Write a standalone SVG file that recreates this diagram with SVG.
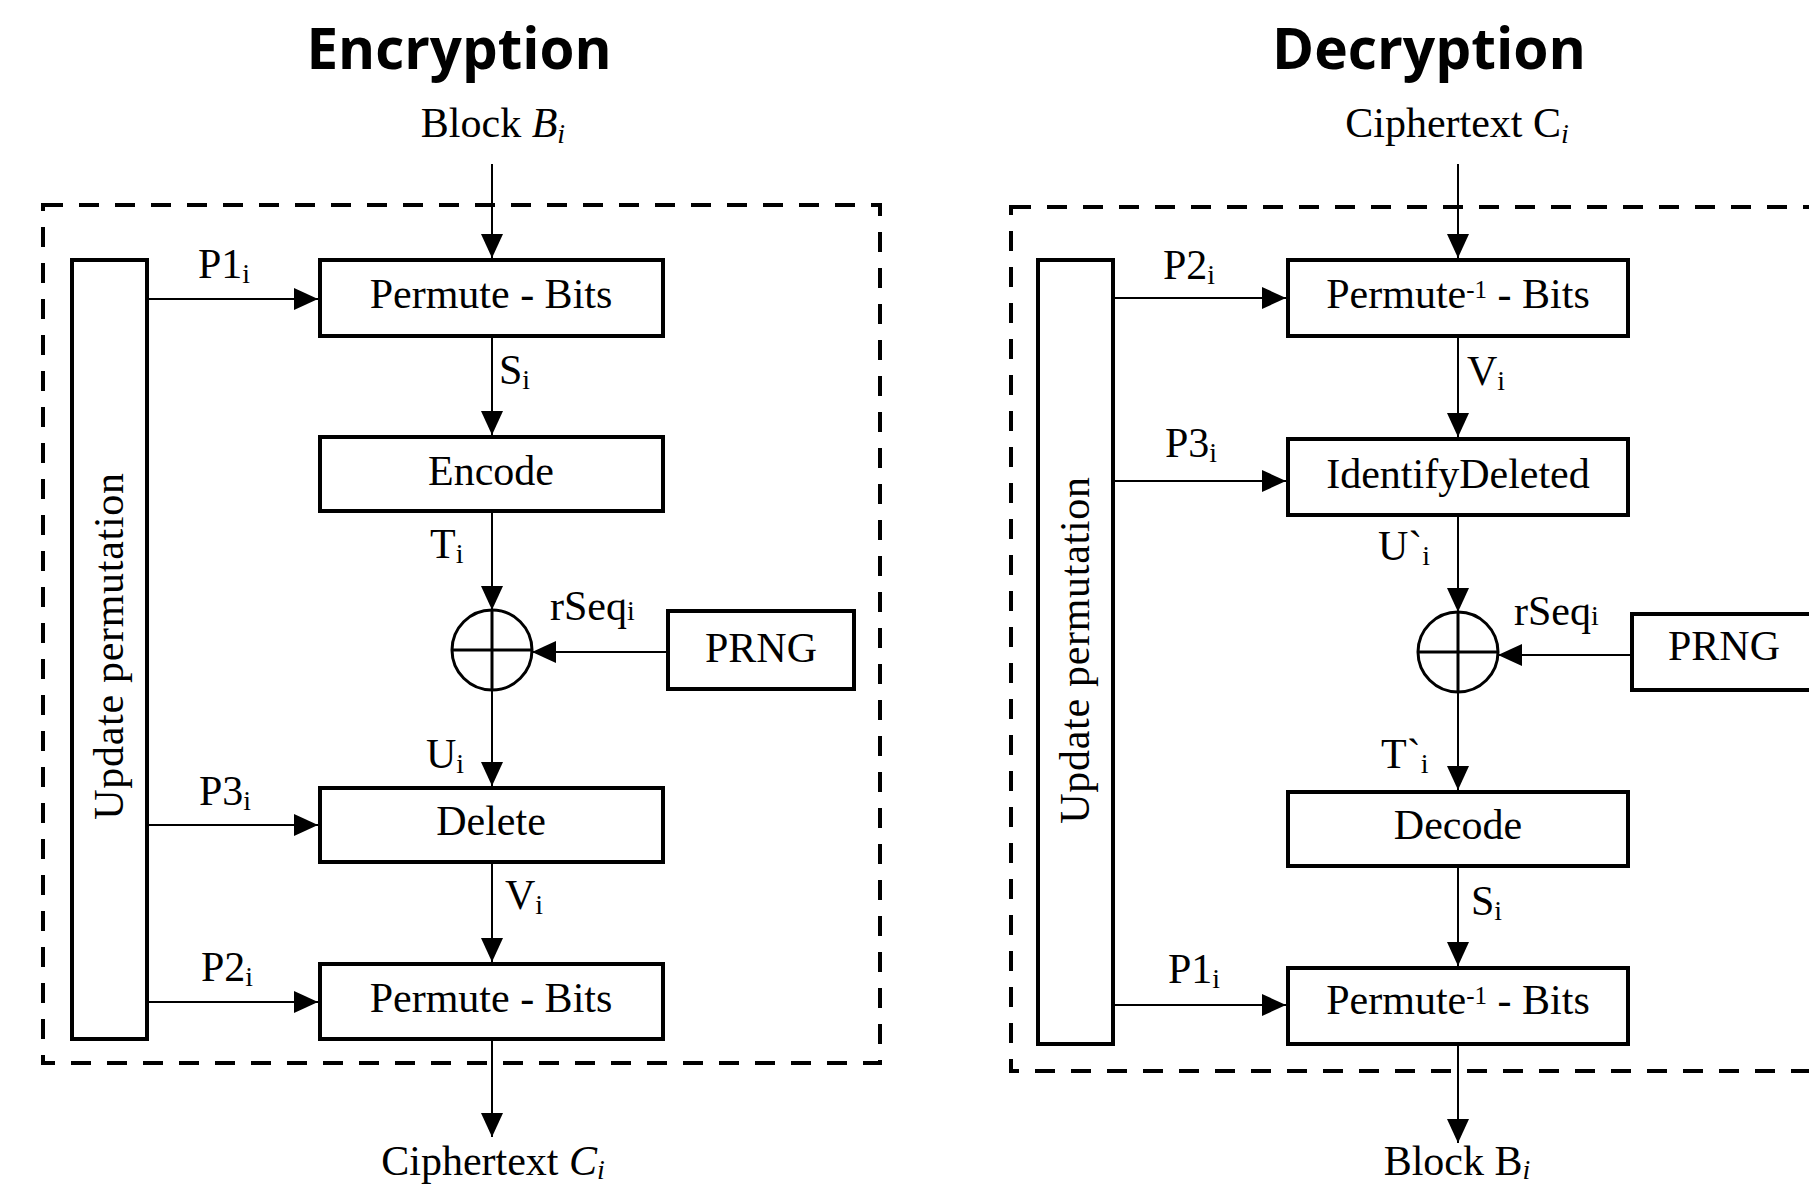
<svg xmlns="http://www.w3.org/2000/svg" width="1809" height="1187" viewBox="0 0 1809 1187">
<style>
.box{fill:#fff;stroke:#000;stroke-width:4}
.conn{stroke:#000;stroke-width:2;fill:none}
.dash{fill:none;stroke:#000;stroke-width:4;stroke-dasharray:20 16}
.xor{fill:#fff;stroke:#000;stroke-width:3}
.xl{stroke:#000;stroke-width:3}
.lbl{font-family:"Liberation Serif","Times New Roman",serif;font-size:42px;fill:#000}
.sub{font-size:28px}
.sup{font-size:25px}
.it{font-style:italic}
.title{font-family:"Open Sans","Liberation Sans",sans-serif;font-weight:bold;font-size:58px;fill:#000}
</style>
<defs>
<marker id="ah" viewBox="0 0 24 24" refX="24" refY="12" markerWidth="24" markerHeight="24" markerUnits="userSpaceOnUse" orient="auto">
<path d="M0,1 L24,12 L0,23 z" fill="#000"/>
</marker>
</defs>
<rect width="1809" height="1187" fill="#fff"/>

<!-- Encryption -->
<text class="title" x="459" y="69" text-anchor="middle" textLength="305" lengthAdjust="spacingAndGlyphs">Encryption</text>
<rect class="dash" x="43" y="205" width="837" height="858"/>

<g id="enc-update"><rect class="box" x="72" y="260" width="75" height="779"/>
<text class="lbl" transform="translate(123,646) rotate(-90)" text-anchor="middle" letter-spacing="0.7">Update permutation</text></g>
<g id="enc-perm1"><rect class="box" x="320" y="260" width="343" height="76"/>
<text class="lbl" x="491" y="308" text-anchor="middle">Permute - Bits</text></g>
<g id="enc-encode"><rect class="box" x="320" y="437" width="343" height="74"/>
<text class="lbl" x="491" y="485" text-anchor="middle">Encode</text></g>
<g id="enc-xor"><circle class="xor" cx="492" cy="650" r="40"/>
<line class="xl" x1="452" y1="650" x2="532" y2="650"/><line class="xl" x1="492" y1="610" x2="492" y2="690"/></g>
<g id="enc-prng"><rect class="box" x="668" y="611" width="186" height="78"/>
<text class="lbl" x="761" y="662" text-anchor="middle">PRNG</text></g>
<g id="enc-delete"><rect class="box" x="320" y="788" width="343" height="74"/>
<text class="lbl" x="491" y="835" text-anchor="middle">Delete</text></g>
<g id="enc-perm2"><rect class="box" x="320" y="964" width="343" height="75"/>
<text class="lbl" x="491" y="1012" text-anchor="middle">Permute - Bits</text></g>

<g id="enc-connectors">
<line class="conn" x1="492" y1="164" x2="492" y2="258" marker-end="url(#ah)"/>
<line class="conn" x1="492" y1="338" x2="492" y2="435" marker-end="url(#ah)"/>
<line class="conn" x1="492" y1="513" x2="492" y2="610" marker-end="url(#ah)"/>
<line class="conn" x1="492" y1="690" x2="492" y2="786" marker-end="url(#ah)"/>
<line class="conn" x1="492" y1="864" x2="492" y2="962" marker-end="url(#ah)"/>
<line class="conn" x1="492" y1="1041" x2="492" y2="1137" marker-end="url(#ah)"/>
<line class="conn" x1="666" y1="652" x2="532" y2="652" marker-end="url(#ah)"/>
<line class="conn" x1="149" y1="299" x2="318" y2="299" marker-end="url(#ah)"/>
<line class="conn" x1="149" y1="825" x2="318" y2="825" marker-end="url(#ah)"/>
<line class="conn" x1="149" y1="1002" x2="318" y2="1002" marker-end="url(#ah)"/>
</g>
<g id="enc-labels">
<text class="lbl" x="493" y="137" text-anchor="middle">Block <tspan class="it">B</tspan><tspan class="it sub" dy="6">i</tspan></text>
<text class="lbl" x="198" y="278">P1<tspan class="sub" dy="5">i</tspan></text>
<text class="lbl" x="499" y="384">S<tspan class="sub" dy="5">i</tspan></text>
<text class="lbl" x="430" y="558">T<tspan class="sub" dy="5">i</tspan></text>
<text class="lbl" x="550" y="620">rSeq<tspan class="sub">i</tspan></text>
<text class="lbl" x="426" y="768">U<tspan class="sub" dy="5">i</tspan></text>
<text class="lbl" x="199" y="805">P3<tspan class="sub" dy="5">i</tspan></text>
<text class="lbl" x="505" y="909">V<tspan class="sub" dy="5">i</tspan></text>
<text class="lbl" x="201" y="981">P2<tspan class="sub" dy="5">i</tspan></text>
<text class="lbl" x="493" y="1175" text-anchor="middle">Ciphertext <tspan class="it">C</tspan><tspan class="it sub" dy="4">i</tspan></text>
</g>

<!-- Decryption -->
<text class="title" x="1429" y="69" text-anchor="middle" textLength="314" lengthAdjust="spacingAndGlyphs">Decryption</text>
<rect class="dash" x="1011" y="207" width="850" height="864"/>

<g id="dec-update"><rect class="box" x="1038" y="260" width="75" height="784"/>
<text class="lbl" transform="translate(1089,650) rotate(-90)" text-anchor="middle" letter-spacing="0.7">Update permutation</text></g>
<g id="dec-perm1"><rect class="box" x="1288" y="260" width="340" height="76"/>
<text class="lbl" x="1458" y="308" text-anchor="middle">Permute<tspan class="sup" dy="-10">-1</tspan><tspan dy="10"> - Bits</tspan></text></g>
<g id="dec-identify"><rect class="box" x="1288" y="439" width="340" height="76"/>
<text class="lbl" x="1458" y="488" text-anchor="middle">IdentifyDeleted</text></g>
<g id="dec-xor"><circle class="xor" cx="1458" cy="652" r="40"/>
<line class="xl" x1="1418" y1="652" x2="1498" y2="652"/><line class="xl" x1="1458" y1="612" x2="1458" y2="692"/></g>
<g id="dec-prng"><rect class="box" x="1632" y="614" width="190" height="76"/>
<text class="lbl" x="1668" y="660">PRNG</text></g>
<g id="dec-decode"><rect class="box" x="1288" y="792" width="340" height="74"/>
<text class="lbl" x="1458" y="839" text-anchor="middle">Decode</text></g>
<g id="dec-perm2"><rect class="box" x="1288" y="968" width="340" height="76"/>
<text class="lbl" x="1458" y="1014" text-anchor="middle">Permute<tspan class="sup" dy="-10">-1</tspan><tspan dy="10"> - Bits</tspan></text></g>

<g id="dec-connectors">
<line class="conn" x1="1458" y1="164" x2="1458" y2="258" marker-end="url(#ah)"/>
<line class="conn" x1="1458" y1="338" x2="1458" y2="437" marker-end="url(#ah)"/>
<line class="conn" x1="1458" y1="517" x2="1458" y2="612" marker-end="url(#ah)"/>
<line class="conn" x1="1458" y1="692" x2="1458" y2="790" marker-end="url(#ah)"/>
<line class="conn" x1="1458" y1="868" x2="1458" y2="966" marker-end="url(#ah)"/>
<line class="conn" x1="1458" y1="1046" x2="1458" y2="1143" marker-end="url(#ah)"/>
<line class="conn" x1="1630" y1="655" x2="1498" y2="655" marker-end="url(#ah)"/>
<line class="conn" x1="1115" y1="298" x2="1286" y2="298" marker-end="url(#ah)"/>
<line class="conn" x1="1115" y1="481" x2="1286" y2="481" marker-end="url(#ah)"/>
<line class="conn" x1="1115" y1="1005" x2="1286" y2="1005" marker-end="url(#ah)"/>
</g>
<g id="dec-labels">
<text class="lbl" x="1457" y="137" text-anchor="middle">Ciphertext C<tspan class="it sub" dy="6">i</tspan></text>
<text class="lbl" x="1163" y="279">P2<tspan class="sub" dy="5">i</tspan></text>
<text class="lbl" x="1467" y="385">V<tspan class="sub" dy="5">i</tspan></text>
<text class="lbl" x="1165" y="457">P3<tspan class="sub" dy="5">i</tspan></text>
<text class="lbl" x="1378" y="560">U`<tspan class="sub" dy="5">i</tspan></text>
<text class="lbl" x="1514" y="625">rSeq<tspan class="sub">i</tspan></text>
<text class="lbl" x="1381" y="768">T`<tspan class="sub" dy="5">i</tspan></text>
<text class="lbl" x="1471" y="915">S<tspan class="sub" dy="5">i</tspan></text>
<text class="lbl" x="1168" y="983">P1<tspan class="sub" dy="5">i</tspan></text>
<text class="lbl" x="1457" y="1175" text-anchor="middle">Block B<tspan class="it sub" dy="4">i</tspan></text>
</g>
</svg>
